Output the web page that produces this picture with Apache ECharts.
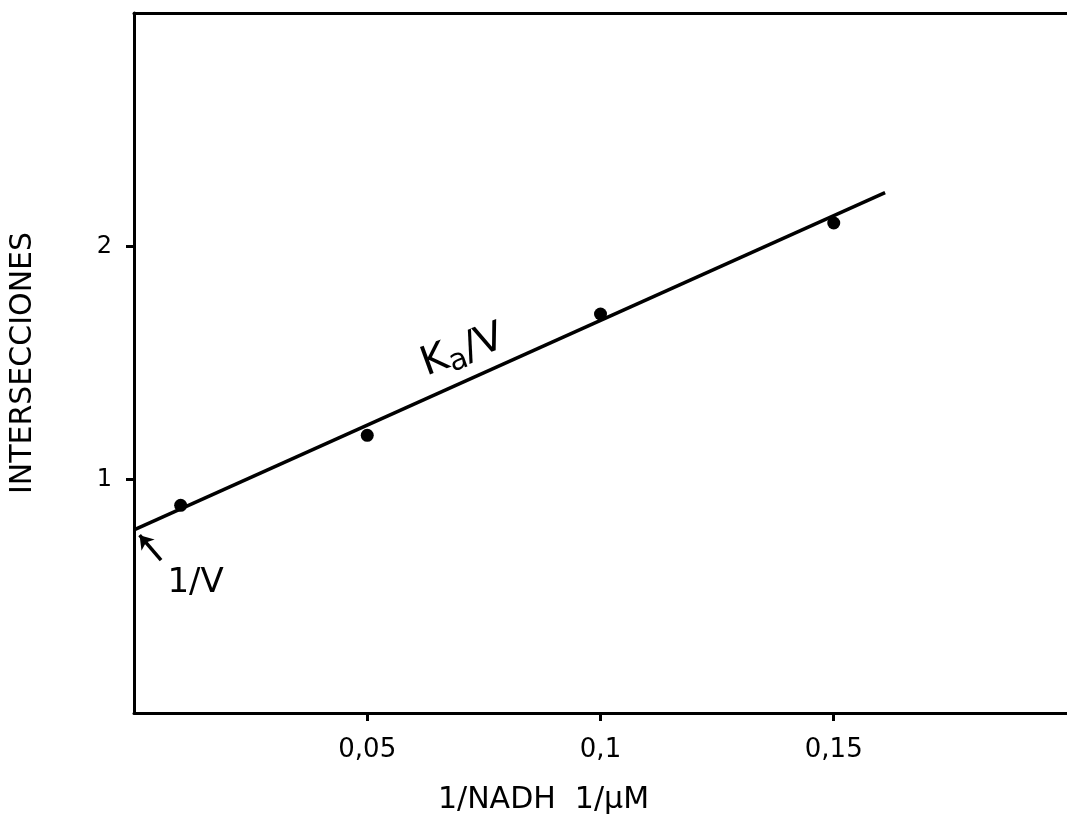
<!DOCTYPE html>
<html>
<head>
<meta charset="utf-8">
<script src="https://cdn.jsdelivr.net/npm/echarts@6/dist/echarts.min.js"></script>
<style>
  html, body { margin: 0; padding: 0; background: #fff; }
  #chart { width: 1067px; height: 821px; }
</style>
</head>
<body>
<div id="chart"></div>
<script>
// measured points (1/NADH, intersecciones)
var xValues = [0.01, 0.05, 0.1, 0.15];
var yValues = [0.89, 1.19, 1.71, 2.10];
// fitted line end points
var fitX = [0, 0.161];
var fitY = [0.785, 2.23];
var xTicks = [0.05, 0.1, 0.15];
var yTicks = [1, 2];

var dom = document.getElementById('chart');
var myChart = echarts.init(dom);

var points = xValues.map(function (x, i) { return [x, yValues[i]]; });
var fitLine = fitX.map(function (x, i) { return [x, fitY[i]]; });

var font = 'DejaVu Sans';

option = {
    backgroundColor: '#fff',
    animation: false,
    grid: {
        left: 134,
        right: 0,
        top: 13,
        bottom: 108
    },
    xAxis: [
        {
            type: 'value',
            min: 0,
            max: 0.2,
            interval: 0.05,
            name: '1/NADH  1/\u00b5M',
            nameLocation: 'middle',
            nameGap: 72,
            nameTextStyle: { color: '#000', fontFamily: font, fontSize: 30, padding: [0, 114, 0, 0] },
            splitLine: { show: false },
            axisLine: { lineStyle: { color: '#000', width: 3 } },
            axisTick: { customValues: xTicks, length: 8, lineStyle: { color: '#000', width: 3 } },
            axisLabel: {
                customValues: xTicks,
                margin: 24,
                color: '#000',
                fontFamily: font,
                fontSize: 26,
                formatter: function (v) { return String(v).replace('.', ','); }
            }
        },
        {
            type: 'value',
            position: 'top',
            min: 0,
            max: 0.2,
            axisLine: { show: true, lineStyle: { color: '#000', width: 3 } },
            axisTick: { show: false },
            axisLabel: { show: false },
            splitLine: { show: false }
        }
    ],
    yAxis: {
        type: 'value',
        min: 0,
        max: 3,
        interval: 1,
        name: 'INTERSECCIONES',
        nameLocation: 'middle',
        nameGap: 96,
        nameRotate: 90,
        nameTextStyle: { color: '#000', fontFamily: font, fontSize: 30 },
        splitLine: { show: false },
        axisLine: { show: true, lineStyle: { color: '#000', width: 3 } },
        axisTick: { show: true, customValues: yTicks, length: 8, lineStyle: { color: '#000', width: 3 } },
        axisLabel: {
            customValues: yTicks,
            margin: 22,
            color: '#000',
            fontFamily: font,
            fontSize: 24
        }
    },
    series: [
        {
            name: 'ajuste',
            type: 'line',
            data: fitLine,
            symbol: 'none',
            lineStyle: { color: '#000', width: 3.5 },
            markPoint: {
                symbol: 'circle',
                symbolSize: 1,
                itemStyle: { color: 'rgba(0,0,0,0)' },
                data: [
                    {
                        coord: [0.0705, 1.55],
                        label: {
                            show: true,
                            rotate: 20,
                            formatter: '{k|K}{a|a}{k|/V}',
                            rich: {
                                k: { fontFamily: font, fontSize: 40, color: '#000' },
                                a: { fontFamily: font, fontSize: 30, color: '#000', padding: [16, 0, 0, 0] }
                            }
                        }
                    },
                    {
                        coord: [0.0132, 0.555],
                        label: {
                            show: true,
                            formatter: '1/V',
                            fontFamily: font,
                            fontSize: 34,
                            color: '#000'
                        }
                    }
                ]
            },
            markLine: {
                silent: true,
                symbol: ['none', 'arrow'],
                symbolSize: 13,
                lineStyle: { color: '#000', width: 3.5, type: 'solid' },
                label: { show: false },
                data: [
                    [{ coord: [0.0058, 0.655] }, { coord: [0.0012, 0.762] }]
                ]
            }
        },
        {
            name: 'datos',
            type: 'scatter',
            data: points,
            symbol: 'circle',
            symbolSize: 13,
            itemStyle: { color: '#000', opacity: 1 }
        }
    ]
};

if (option && typeof option === 'object') {
    myChart.setOption(option, true);
}
</script>
</body>
</html>
